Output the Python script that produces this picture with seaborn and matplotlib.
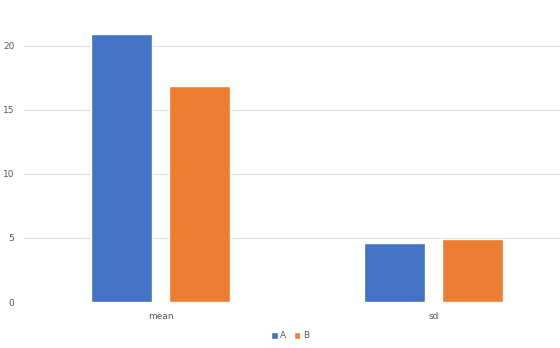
import pandas as pd
import numpy as np
import seaborn as sns
import matplotlib.pyplot as plt

stats = ['mean', 'sd']
groups = ['A', 'B']
values_a = [20.9, 4.6]
values_b = [16.85, 4.95]

data = pd.DataFrame({
    'Stat': stats + stats,
    'Group': ['A'] * len(stats) + ['B'] * len(stats),
    'Value': values_a + values_b,
})

sns.set_style('white')
plt.rcParams['font.family'] = ['DejaVu Sans']

fig = plt.figure(figsize=(5.6, 3.48), dpi=100)
ax = fig.add_axes([24 / 560, 46 / 348, 536 / 560, 282 / 348])

ax = sns.barplot(data=data, x='Stat', y='Value', hue='Group',
    order=stats, hue_order=groups, palette=['#4472C4', '#ED7D31'],
    width=0.57, gap=0.22, saturation=1, ax=ax, zorder=3)

ax.set_xlim(-0.5, 1.463)
ax.set_ylim(0, 22)
ax.set_yticks([0, 5, 10, 15, 20])
ax.yaxis.grid(True, color='#E0E0E0', linewidth=0.8, zorder=0)
ax.set_axisbelow(True)
for s in ax.spines.values():
    s.set_visible(False)
ax.tick_params(axis='both', length=0, labelsize=6.5, labelcolor='#595959')
ax.tick_params(axis='y', pad=7)
ax.tick_params(axis='x', pad=7)
ax.set_xlabel('')
ax.set_ylabel('')

ax.legend(loc='center', bbox_to_anchor=(290 / 560, 12 / 348),
    bbox_transform=fig.transFigure, ncol=2, frameon=False,
    fontsize=6.5, labelcolor='#595959', handlelength=0.75, handleheight=0.75,
    handletextpad=0.3, columnspacing=0.8)

plt.savefig('out.png', dpi=100)
